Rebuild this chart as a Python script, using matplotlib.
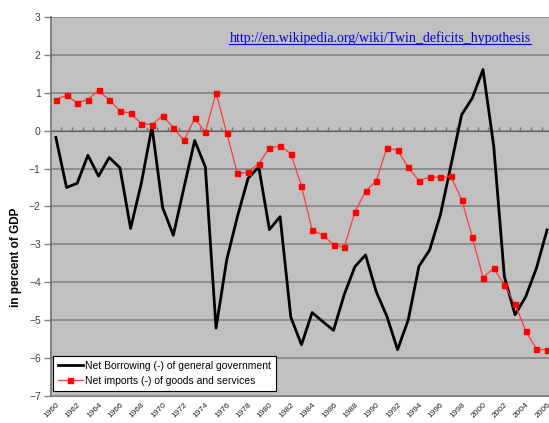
import numpy as np
import matplotlib.pyplot as plt
from matplotlib.lines import Line2D

plt.rcParams['font.family'] = ['Liberation Sans', 'DejaVu Sans']

# data (percent of GDP)
years = list(range(1960, 2007))
borrowing = [-0.18, -1.5, -1.39, -0.65, -1.2, -0.71, -0.98, -2.58, -1.39, 0.1,
             -2.03, -2.76, -1.5, -0.26, -0.96, -5.21, -3.41, -2.27, -1.26, -0.96,
             -2.61, -2.27, -4.92, -5.65, -4.8, -5.04, -5.27, -4.33, -3.59, -3.28,
             -4.25, -4.9, -5.78, -4.99, -3.58, -3.15, -2.23, -0.91, 0.42, 0.86,
             1.61, -0.4, -3.85, -4.86, -4.38, -3.63, -2.62]
imports = [0.82, 0.93, 0.73, 0.82, 1.06, 0.81, 0.52, 0.46, 0.18, 0.16,
           0.39, 0.08, -0.26, 0.32, -0.04, 1.0, -0.06, -1.13, -1.1, -0.87,
           -0.46, -0.4, -0.61, -1.46, -2.62, -2.76, -3.01, -3.08, -2.15, -1.6,
           -1.33, -0.45, -0.52, -0.97, -1.32, -1.23, -1.23, -1.21, -1.82, -2.81,
           -3.88, -3.63, -4.07, -4.58, -5.28, -5.76, -5.79]
tick_years = years[::2]
url = "http://en.wikipedia.org/wiki/Twin_deficits_hypothesis"

fig = plt.figure(figsize=(5.49, 4.23), dpi=100)
ax = fig.add_axes([0.092, 0.064, 0.908, 0.896])
ax.set_facecolor('#c0c0c0')

ymin, ymax = -7, 3
ax.set_ylim(ymin, ymax)
ax.set_xlim(years[0] - 0.5, years[0] - 0.5 + 497.6 / 10.66)

for v in range(ymin, ymax + 1):
    ax.axhline(v, color='#808080', lw=1.1, zorder=1)

ax.plot(years, borrowing, color='black', lw=2.0, zorder=3,
        label='Net Borrowing (-) of general government')
ax.plot(years, imports, color='#ff3a3a', lw=0.9, marker='s', markersize=3.6,
        markerfacecolor='red', markeredgecolor='red', zorder=4,
        label='Net imports (-) of goods and services')

ax.set_yticks(range(ymin, ymax + 1))
ax.tick_params(axis='y', length=5, width=1, color='#808080', labelsize=7.5,
               labelcolor='#404040', pad=2)
ax.set_xticks(tick_years)
ax.set_xticklabels([str(y) for y in tick_years], rotation=45, ha='right',
                   rotation_mode='anchor', fontsize=6, color='#202020')
ax.tick_params(axis='x', length=0, pad=4)

for s in ['top', 'right']:
    ax.spines[s].set_visible(False)
ax.spines['left'].set_color('#707070')
ax.spines['left'].set_linewidth(1.2)
ax.spines['bottom'].set_color('#808080')

# category axis crossing at zero
sec = ax.secondary_xaxis((0 - ymin) / (ymax - ymin))
sec.set_xticks(np.arange(years[0] + 0.5, years[-1] + 1))
sec.tick_params(axis='x', direction='out', length=3, width=1, color='#707070',
                labelbottom=False, labeltop=False)
sec.spines['bottom'].set_color('#707070')

ax.set_ylabel('in percent of GDP', fontsize=8.5, fontweight='bold')
ax.yaxis.set_label_coords(-0.058, 0.367)

leg = ax.legend(loc='lower left', bbox_to_anchor=(0.004, 0.013), borderaxespad=0,
                fontsize=7.5, fancybox=False, framealpha=1, edgecolor='black',
                handlelength=2.4, handletextpad=0.2, labelspacing=0.45,
                borderpad=0.5)
leg.get_frame().set_linewidth(0.8)

t = ax.text(0.359, 0.945, url, transform=ax.transAxes, fontsize=10,
            family='Liberation Serif', color='#0000dd', va='center')
fig.canvas.draw()
bb = t.get_window_extent()
fig.add_artist(Line2D([bb.x0, bb.x1], [bb.y0 + 1, bb.y0 + 1],
                      transform=None, color='#0000dd', lw=0.8))

fig.savefig('out.png', dpi=100)
